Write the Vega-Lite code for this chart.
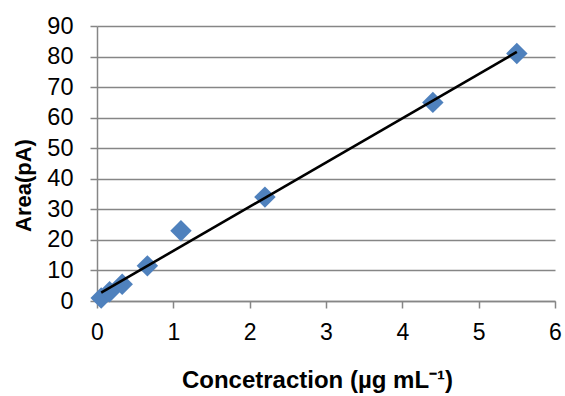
{
  "$schema": "https://vega.github.io/schema/vega-lite/v6.json",
  "autosize": "none",
  "width": 458,
  "height": 275,
  "padding": {"left": 97, "top": 26, "right": 10, "bottom": 95},
  "background": "white",
  "config": {"view": {"stroke": null}, "font": "Liberation Sans"},
  "data": {"values": [
    {"conc": 0.055, "area": 1.0},
    {"conc": 0.165, "area": 3.0},
    {"conc": 0.33, "area": 5.5},
    {"conc": 0.66, "area": 11.5},
    {"conc": 1.1, "area": 23.0},
    {"conc": 2.2, "area": 34.0},
    {"conc": 4.4, "area": 65.0},
    {"conc": 5.5, "area": 81.0}
  ]},
  "encoding": {
    "x": {"field": "conc", "type": "quantitative", "scale": {"domain": [0, 6], "nice": false},
      "axis": {"title": "Concetraction (µg mL⁻¹)", "values": [0,1,2,3,4,5,6], "format": "d", "grid": false,
        "labelFlush": false, "labelOverlap": false,
        "domainColor": "#868686", "domainWidth": 1.5, "tickColor": "#868686", "tickWidth": 1.5, "tickSize": 7,
        "labelFontSize": 23, "labelColor": "#000", "labelPadding": 13, "labelFont": "Liberation Sans",
        "titleFontSize": 24, "titleFontWeight": "bold", "titleColor": "#000", "titlePadding": 24, "titleFont": "Liberation Sans",
        "titleX": 220}},
    "y": {"field": "area", "type": "quantitative", "scale": {"domain": [0, 90], "nice": false},
      "axis": {"title": "Area(pA)", "values": [0,10,20,30,40,50,60,70,80,90], "format": "d", "grid": true,
        "labelFlush": false, "labelOverlap": false,
        "gridColor": "#868686", "gridWidth": 1.5,
        "domainColor": "#868686", "domainWidth": 1.5, "tickColor": "#868686", "tickWidth": 1.5, "tickSize": 7,
        "labelFontSize": 23.5, "labelColor": "#000", "labelPadding": 17, "labelFont": "Liberation Sans",
        "titleFontSize": 22, "titleFontWeight": "bold", "titleColor": "#000", "titlePadding": 11, "titleFont": "Liberation Sans",
        "titleY": 159}}
  },
  "layer": [
    {
      "mark": {"type": "point", "shape": "diamond", "filled": true, "size": 460, "color": "#4F81BD", "opacity": 1}
    },
    {
      "transform": [{"regression": "area", "on": "conc", "extent": [0.055, 5.5]}],
      "mark": {"type": "line", "color": "#000", "strokeWidth": 2.6}
    }
  ]
}
